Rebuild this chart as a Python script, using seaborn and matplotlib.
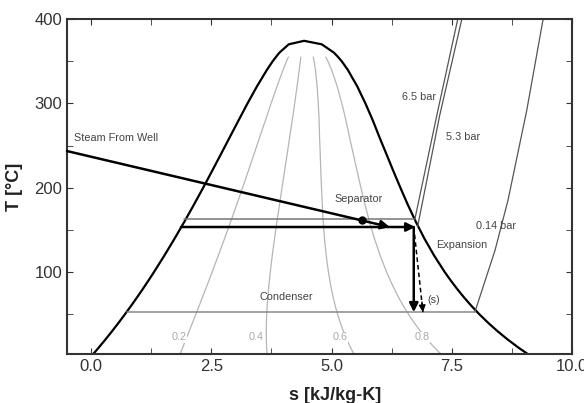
import numpy as np
import matplotlib
matplotlib.use("Agg")
import matplotlib.pyplot as plt
import seaborn as sns
from matplotlib.ticker import MultipleLocator

# saturation data for water (T in C, s in kJ/kg-K)
T_sat = [0.01, 10, 20, 30, 40, 50, 60, 70, 80, 90, 100, 120, 140, 160, 180,
         200, 220, 240, 260, 280, 300, 320, 340, 350, 355, 360, 370, 374.14]
s_liq = [0.0, 0.1511, 0.2965, 0.4368, 0.5724, 0.7038, 0.8313, 0.9551, 1.0756,
         1.1929, 1.3072, 1.5279, 1.7392, 1.9426, 2.1392, 2.3305, 2.5177, 2.7020,
         2.8849, 3.0685, 3.2534, 3.4480, 3.6594, 3.7777, 3.845, 3.9147, 4.1106, 4.4298]
s_vap = [9.1556, 8.8998, 8.6660, 8.4520, 8.2557, 8.0753, 7.9092, 7.7557, 7.6132,
         7.4804, 7.3549, 7.1296, 6.9293, 6.7502, 6.5857, 6.4322, 6.2840, 6.1406,
         5.9956, 5.8571, 5.7045, 5.5362, 5.3357, 5.2112, 5.136, 5.0526, 4.7971, 4.4298]

qualities = [0.2, 0.4, 0.6, 0.8]
quality_label_s = [1.83, 3.44, 5.17, 6.875]
quality_label_T = 22.9

# isobars in the superheated region
iso_65_s = [6.73, 7.19, 7.625]
iso_65_T = [162, 286, 400]
iso_53_s = [6.79, 7.25, 7.71]
iso_53_T = [154, 286, 400]
iso_014_s = [7.98, 8.40, 8.67, 9.06, 9.40]
iso_014_T = [52.6, 126, 185.4, 292, 400]

# process lines
well_s = [-0.5, 6.21]
well_T = [243.5, 153.5]
sep_point = (5.63, 161.3)
sep_line_s = [1.94, 6.72]
sep_line_T = 162.5
flash_s = [1.87, 6.74]
flash_T = 153.5
cond_s = [0.75, 7.98]
cond_T = 52.6
exp_s = [6.71, 6.71]
exp_isen_s = [6.71, 6.90]
exp_T = [153.5, 52.6]

labels = [("Steam From Well", -0.35, 259, "left"),
          ("Separator", 5.56, 186.5, "center"),
          ("6.5 bar", 6.81, 307.5, "center"),
          ("5.3 bar", 7.73, 260, "center"),
          ("0.14 bar", 8.42, 154.5, "center"),
          ("Expansion", 7.71, 132, "center"),
          ("Condenser", 4.05, 70.3, "center"),
          ("(s)", 7.13, 67, "center")]

sns.set_style("ticks")
plt.rcParams["font.family"] = ["Liberation Sans", "DejaVu Sans"]

fig = plt.figure(figsize=(5.84, 4.03), dpi=100)
ax = fig.add_axes([67 / 584, 1 - 354 / 403, 505 / 584, 335 / 403])

# saturation dome
dome_s = s_liq + s_vap[::-1]
dome_T = T_sat + T_sat[::-1]
sns.lineplot(x=dome_s, y=dome_T, sort=False, estimator=None, color="black",
             lw=1.6, ax=ax)

# quality lines
sl = np.array(s_liq)
sv = np.array(s_vap)
Ts = np.array(T_sat)
keep = Ts <= 355
for q, lx in zip(qualities, quality_label_s):
    sq = sl[keep] + q * (sv[keep] - sl[keep])
    sns.lineplot(x=sq, y=Ts[keep], sort=False, estimator=None, color="#b5b5b5",
                 lw=0.9, ax=ax)
    ax.text(lx, quality_label_T, f"{q:.1f}", fontsize=7.8, color="#aaaaaa",
            ha="center", va="center", zorder=5,
            bbox=dict(facecolor="white", edgecolor="none", pad=0.5))

# isobars
for xs, ys in [(iso_65_s, iso_65_T), (iso_53_s, iso_53_T), (iso_014_s, iso_014_T)]:
    sns.lineplot(x=xs, y=ys, sort=False, estimator=None, color="#555555",
                 lw=0.9, ax=ax)

# horizontal separator / condenser lines
ax.plot(sep_line_s, [sep_line_T] * 2, color="#777777", lw=1.1)
ax.plot(cond_s, [cond_T] * 2, color="#888888", lw=1.1)

arrow = dict(arrowstyle="-|>", color="black", lw=1.8, mutation_scale=13,
             shrinkA=0, shrinkB=0)
# steam from well
ax.annotate("", xy=(well_s[1], well_T[1]), xytext=(well_s[0], well_T[0]),
            arrowprops=arrow)
ax.plot(*sep_point, "o", color="black", ms=5)
# flash to separator pressure
ax.annotate("", xy=(flash_s[1], flash_T), xytext=(flash_s[0], flash_T),
            arrowprops=arrow)
# expansion, actual
ax.annotate("", xy=(exp_s[1], exp_T[1]), xytext=(exp_s[0], exp_T[0]),
            arrowprops=arrow)
# expansion, isentropic
ax.plot(exp_isen_s, exp_T, color="black", lw=1.1, ls="--", dashes=(3, 2))
ax.annotate("", xy=(exp_isen_s[1], exp_T[1]),
            xytext=(exp_isen_s[1] - 0.02, exp_T[1] + 12),
            arrowprops=dict(arrowstyle="-|>", color="black", lw=1.0,
                            mutation_scale=10, shrinkA=0, shrinkB=0))

for txt, x, y, ha in labels:
    ax.text(x, y, txt, fontsize=7.8, color="#444444", ha=ha, va="center")

ax.set_xlim(-0.5, 10)
ax.set_ylim(3, 400)
ax.xaxis.set_major_locator(MultipleLocator(2.5))
ax.xaxis.set_minor_locator(MultipleLocator(1.25))
ax.yaxis.set_major_locator(MultipleLocator(100))
ax.yaxis.set_minor_locator(MultipleLocator(50))
ax.set_yticks([100, 200, 300, 400])
ax.tick_params(which="both", direction="in", top=True, right=True,
               colors="#333333", labelsize=12)
ax.tick_params(which="major", length=4)
ax.tick_params(which="minor", length=4)
for sp in ax.spines.values():
    sp.set_linewidth(1.5)
    sp.set_color("#333333")

ax.set_xlabel("s [kJ/kg-K]", fontsize=13, fontweight="bold", color="#222222")
ax.set_ylabel("T [°C]", fontsize=13, fontweight="bold", color="#222222")
ax.xaxis.set_label_coords(0.53, -0.10)
ax.yaxis.set_label_coords(-0.088, 0.5)

fig.savefig("out.png", dpi=100)
